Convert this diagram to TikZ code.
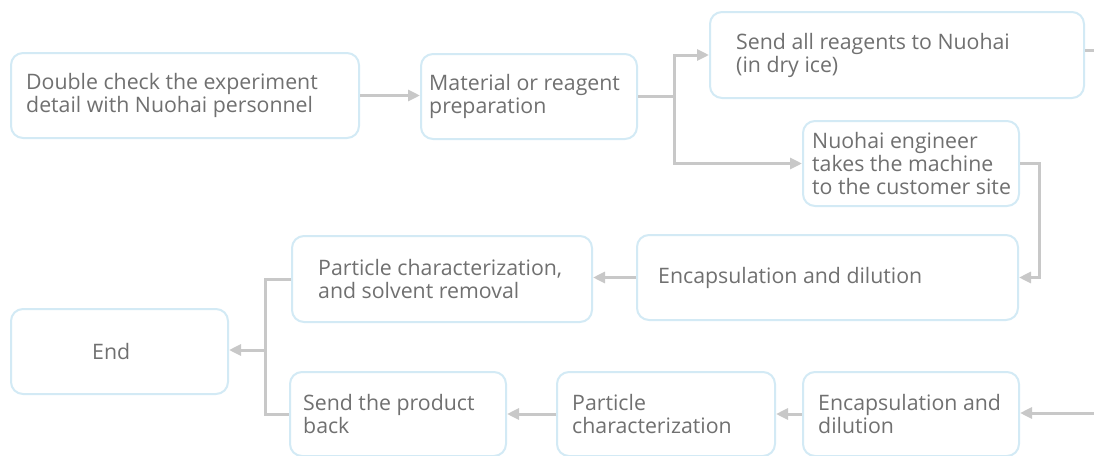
\documentclass[tikz,border=0pt]{standalone}
\usepackage{fontspec}
\setmainfont{Open Sans}
\usetikzlibrary{arrows.meta}
\definecolor{boxline}{HTML}{D3EAF5}
\definecolor{conn}{HTML}{C8C8C8}
\definecolor{txt}{HTML}{707070}
\tikzset{
  stepbox/.style={draw=boxline, line width=2pt, rounded corners=12pt, fill=white,
    anchor=north west, inner sep=0pt},
  lbl/.style={anchor=west, inner sep=0pt, align=left, text=txt,
    font=\fontsize{21.3}{23}\selectfont},
  conline/.style={draw=conn, line width=3pt},
  conarrow/.style={conline, -{Triangle[length=12pt,width=11pt]}},
}
\newcommand{\mkbox}[7]{%
  \node[stepbox, minimum width=#4pt-#2pt, minimum height=#5pt-#3pt] (#1) at (#2,#3) {};
  \node[lbl] (#1-t) at ([xshift=#6pt]#1.west) {#7};}
\begin{document}
\begin{tikzpicture}[x=1pt,y=-1pt]
\useasboundingbox (0,0) rectangle (1094,455);
\mkbox{A}{10}{52}{358}{137}{16}{Double check the experiment\\detail with Nuohai personnel}
\mkbox{B}{420}{53}{636}{138}{9}{Material or reagent\\preparation}
\mkbox{C}{709}{11}{1083}{97}{27}{Send all reagents to Nuohai\\(in dry ice)}
\mkbox{D}{802}{120}{1018}{205}{10}{Nuohai engineer\\takes the machine\\to the customer site}
\mkbox{E}{636}{234}{1017}{319}{22}{Encapsulation and dilution}
\mkbox{F}{291}{235}{591}{321}{27}{Particle characterization,\\and solvent removal}
\mkbox{End}{10}{308}{227}{393}{82}{End}
\mkbox{G}{289}{371}{505}{455}{14}{Send the product\\back}
\mkbox{H}{556}{371}{774}{455}{16}{Particle\\characterization}
\mkbox{I}{802}{371}{1018}{455}{16}{Encapsulation and\\dilution}
\coordinate (outR) at (1094,50);
\coordinate (inR) at (1094,413);
\coordinate (j) at (265,350);
\draw[conarrow] (A.east) -- (A.east -| B.west);
\draw[conarrow] (B.east) -- ++(36,0) |- (C.west);
\draw[conarrow] (B.east) -- ++(36,0) |- (D.west);
\draw[conline] (C.east |- outR) -- (outR);
\draw[conarrow] (D.east) -- (1039,0 |- D.east) |- (E.east);
\draw[conarrow] (E.west) -- (E.west -| F.east);
\draw[conline] (F.west) -| (j) |- (G.west);
\draw[conarrow] (j) -- (j -| End.east);
\draw[conarrow] (inR) -- (inR -| I.east);
\draw[conarrow] (I.west) -- (H.east);
\draw[conarrow] (H.west) -- (G.east);
\end{tikzpicture}
\end{document}
